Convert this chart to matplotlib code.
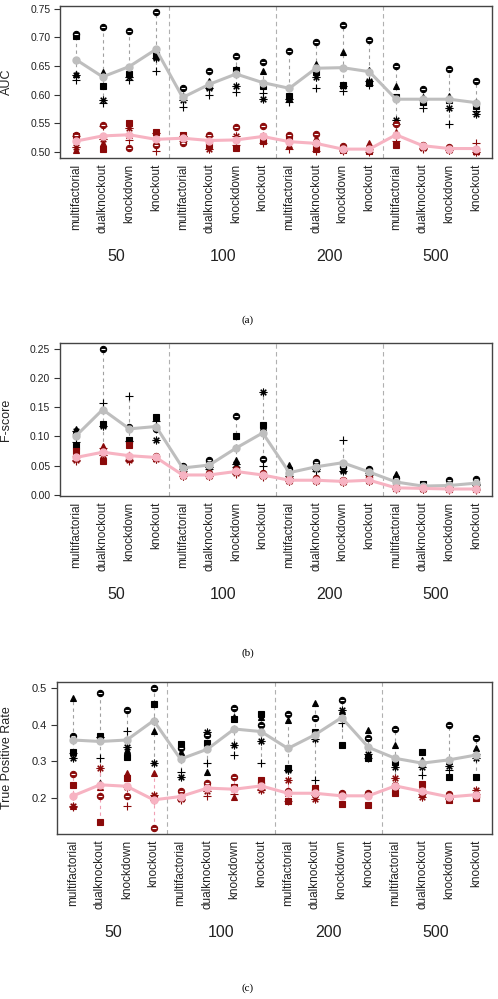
#!/usr/bin/env python

"""
AUC, F-score and true positive rate per network size and data type,
black = one group of methods, dark red = the other, lines = group means.
"""

import matplotlib
matplotlib.use('Agg')
import matplotlib.pyplot as plt
import numpy as np

SIZES = ['50', '100', '200', '500']
DATASETS = ['multifactorial', 'dualknockout', 'knockdown', 'knockout']

# one row per x position (size x dataset); columns = circle, triangle, square, asterisk, cross
AUC_BLACK = [
    [0.705, 0.636, 0.703, 0.634, 0.625], [0.718, 0.640, 0.615, 0.591, 0.585],
    [0.711, 0.638, 0.636, 0.630, 0.626], [0.744, 0.667, 0.669, 0.664, 0.641],
    [0.612, 0.597, 0.595, 0.590, 0.578], [0.642, 0.623, 0.615, 0.611, 0.600],
    [0.667, 0.645, 0.643, 0.615, 0.605], [0.656, 0.641, 0.615, 0.592, 0.603],
    [0.676, 0.594, 0.597, 0.592, 0.588], [0.692, 0.653, 0.640, 0.630, 0.611],
    [0.721, 0.675, 0.617, 0.615, 0.607], [0.695, 0.643, 0.620, 0.623, 0.617],
    [0.650, 0.615, 0.595, 0.556, 0.548], [0.609, 0.596, 0.587, 0.590, 0.577],
    [0.645, 0.598, 0.591, 0.577, 0.549], [0.624, 0.588, 0.580, 0.566, 0.572],
]
AUC_RED = [
    [0.530, 0.503, 0.528, 0.509, 0.527], [0.547, 0.515, 0.506, 0.523, 0.545],
    [0.507, 0.530, 0.550, 0.541, 0.521], [0.513, 0.529, 0.535, 0.533, 0.501],
    [0.516, 0.525, 0.530, 0.528, 0.520], [0.530, 0.522, 0.513, 0.505, 0.528],
    [0.544, 0.522, 0.507, 0.528, 0.512], [0.546, 0.525, 0.519, 0.528, 0.515],
    [0.530, 0.512, 0.525, 0.520, 0.505], [0.531, 0.524, 0.505, 0.514, 0.502],
    [0.510, 0.506, 0.504, 0.503, 0.501], [0.503, 0.516, 0.502, 0.505, 0.500],
    [0.548, 0.535, 0.512, 0.530, 0.520], [0.513, 0.511, 0.509, 0.507, 0.505],
    [0.508, 0.507, 0.506, 0.504, 0.503], [0.506, 0.504, 0.502, 0.500, 0.515],
]
AUC_BLACK_MEAN = [0.661, 0.631, 0.649, 0.679, 0.595, 0.618, 0.636, 0.621,
                  0.611, 0.646, 0.647, 0.640, 0.592, 0.592, 0.592, 0.586]
AUC_RED_MEAN = [0.519, 0.528, 0.530, 0.522, 0.524, 0.520, 0.521, 0.527,
                0.518, 0.515, 0.505, 0.505, 0.530, 0.511, 0.506, 0.506]

FSCORE_BLACK = [
    [0.105, 0.112, 0.083, 0.109, 0.091], [0.250, 0.080, 0.122, 0.118, 0.158],
    [0.117, 0.090, 0.094, 0.092, 0.170], [0.113, 0.118, 0.133, 0.094, 0.126],
    [0.050, 0.048, 0.046, 0.044, 0.041], [0.060, 0.050, 0.055, 0.047, 0.045],
    [0.135, 0.060, 0.101, 0.052, 0.048], [0.061, 0.116, 0.120, 0.176, 0.050],
    [0.044, 0.051, 0.038, 0.033, 0.028], [0.057, 0.052, 0.047, 0.044, 0.040],
    [0.047, 0.044, 0.052, 0.040, 0.094], [0.044, 0.042, 0.040, 0.037, 0.034],
    [0.028, 0.035, 0.020, 0.014, 0.012], [0.016, 0.014, 0.019, 0.013, 0.012],
    [0.025, 0.016, 0.013, 0.013, 0.012], [0.027, 0.022, 0.019, 0.018, 0.016],
]
FSCORE_RED = [
    [0.066, 0.064, 0.075, 0.060, 0.058], [0.075, 0.083, 0.058, 0.068, 0.080],
    [0.062, 0.068, 0.085, 0.060, 0.058], [0.067, 0.065, 0.063, 0.062, 0.061],
    [0.037, 0.035, 0.034, 0.033, 0.032], [0.037, 0.035, 0.034, 0.033, 0.032],
    [0.044, 0.042, 0.040, 0.038, 0.035], [0.038, 0.036, 0.034, 0.033, 0.031],
    [0.028, 0.026, 0.025, 0.024, 0.024], [0.028, 0.026, 0.025, 0.024, 0.024],
    [0.026, 0.024, 0.023, 0.022, 0.022], [0.030, 0.026, 0.025, 0.024, 0.023],
    [0.014, 0.012, 0.011, 0.011, 0.010], [0.012, 0.011, 0.011, 0.010, 0.010],
    [0.012, 0.010, 0.010, 0.010, 0.009], [0.012, 0.011, 0.010, 0.010, 0.009],
]
FSCORE_BLACK_MEAN = [0.101, 0.146, 0.113, 0.117, 0.046, 0.051, 0.080, 0.106,
                     0.038, 0.048, 0.055, 0.039, 0.022, 0.015, 0.016, 0.020]
FSCORE_RED_MEAN = [0.064, 0.073, 0.067, 0.064, 0.034, 0.034, 0.040, 0.034,
                   0.025, 0.025, 0.023, 0.025, 0.012, 0.011, 0.010, 0.010]

TPR_BLACK = [
    [0.369, 0.473, 0.326, 0.308, 0.322], [0.486, 0.240, 0.368, 0.365, 0.310],
    [0.441, 0.330, 0.313, 0.340, 0.383], [0.500, 0.383, 0.456, 0.295, 0.411],
    [0.335, 0.325, 0.347, 0.258, 0.270], [0.372, 0.270, 0.349, 0.381, 0.295],
    [0.446, 0.420, 0.414, 0.345, 0.317], [0.399, 0.422, 0.430, 0.354, 0.295],
    [0.430, 0.412, 0.281, 0.277, 0.275], [0.417, 0.459, 0.381, 0.361, 0.250],
    [0.467, 0.437, 0.345, 0.439, 0.405], [0.364, 0.385, 0.310, 0.320, 0.310],
    [0.387, 0.345, 0.298, 0.284, 0.228], [0.293, 0.304, 0.325, 0.285, 0.263],
    [0.399, 0.300, 0.257, 0.286, 0.277], [0.364, 0.335, 0.257, 0.308, 0.320],
]
TPR_RED = [
    [0.265, 0.177, 0.236, 0.178, 0.176], [0.206, 0.230, 0.134, 0.281, 0.236],
    [0.206, 0.268, 0.254, 0.231, 0.177], [0.119, 0.268, 0.200, 0.209, 0.195],
    [0.220, 0.210, 0.200, 0.198, 0.195], [0.242, 0.236, 0.226, 0.220, 0.206],
    [0.256, 0.204, 0.230, 0.224, 0.210], [0.240, 0.233, 0.248, 0.222, 0.225],
    [0.218, 0.214, 0.193, 0.250, 0.192], [0.222, 0.215, 0.227, 0.196, 0.208],
    [0.215, 0.212, 0.184, 0.210, 0.209], [0.215, 0.212, 0.182, 0.210, 0.210],
    [0.236, 0.233, 0.213, 0.254, 0.230], [0.222, 0.215, 0.239, 0.204, 0.210],
    [0.210, 0.205, 0.195, 0.200, 0.198], [0.203, 0.208, 0.200, 0.222, 0.212],
]
TPR_BLACK_MEAN = [0.358, 0.354, 0.358, 0.411, 0.306, 0.333, 0.388, 0.381,
                  0.335, 0.372, 0.419, 0.338, 0.308, 0.295, 0.304, 0.317]
TPR_RED_MEAN = [0.206, 0.236, 0.232, 0.195, 0.204, 0.227, 0.224, 0.233,
                0.213, 0.213, 0.206, 0.206, 0.233, 0.218, 0.203, 0.209]

MARKERS = ['o', '^', 's', (8, 2, 0), '+']
MSIZES = [4.5, 4.8, 4.2, 5.5, 6.0]
DARKRED = '#8b0a0a'
GREY = '#bebebe'
PINK = '#f7b3c2'
FONT = 'Liberation Sans'


def draw_panel(ax, black, red, black_mean, red_mean, ylim, yticks, fmt,
               ylabel, label_x, ytick_size, ylabel_size):
    x = np.arange(1, 17)
    blk = np.array(black)
    rd = np.array(red)

    for s in [4.5, 8.5, 12.5]:
        ax.axvline(s, color='#b0b0b0', ls=(0, (4, 3)), lw=0.8, zorder=1)

    # min-max whiskers
    ax.vlines(x, blk.min(1), blk.max(1), colors='#a0a0a0',
              linestyles=(0, (3, 3)), lw=0.8, zorder=2)
    ax.vlines(x, rd.min(1), rd.max(1), colors='#f0a0b4',
              linestyles=(0, (3, 3)), lw=0.8, zorder=2)

    for vals, col in [(blk, 'black'), (rd, DARKRED)]:
        for j, m in enumerate(MARKERS):
            ax.plot(x, vals[:, j], ls='none', marker=m, ms=MSIZES[j],
                    color=col, mew=0.8, zorder=3)
        # white bar through the circles
        ax.plot(x, vals[:, 0], ls='none', marker='_', ms=3.5, color='white',
                mew=0.8, zorder=3.5)

    ax.plot(x, black_mean, color=GREY, lw=2.2, marker='o', ms=5, zorder=4)
    ax.plot(x, red_mean, color=PINK, lw=2.2, marker='o', ms=5, zorder=4)

    ax.set_xlim(0.4, 16.6)
    ax.set_ylim(*ylim)
    ax.set_xticks(x)
    ax.set_xticklabels(DATASETS * 4, rotation=90, fontsize=8.5,
                       family=FONT, color='#222222')
    ax.tick_params(axis='x', length=0, pad=4)
    ax.set_yticks(yticks)
    ax.set_yticklabels([fmt % v for v in yticks], fontsize=ytick_size,
                       family=FONT, color='#222222')
    ax.tick_params(axis='y', length=4, width=0.8, color='#333333', pad=3)
    for sp in ax.spines.values():
        sp.set_color('#444444')
        sp.set_linewidth(1.0)
    ax.set_ylabel(ylabel, fontsize=ylabel_size, family=FONT, color='#222222')
    ax.yaxis.set_label_coords(label_x, 0.5)

    for i, size in enumerate(SIZES):
        ax.annotate(size, xy=(2.5 + 4 * i, 0), xycoords=('data', 'axes fraction'),
                    xytext=(0, -71), textcoords='offset points',
                    ha='center', va='center', fontsize=11.5, family=FONT,
                    color='#222222')


def main():
    fig = plt.figure(figsize=(4.98, 9.99), dpi=100)
    W, H = 498.0, 999.0

    ax_a = fig.add_axes([60 / W, 1 - 158 / H, 432 / W, 152 / H])
    draw_panel(ax_a, AUC_BLACK, AUC_RED, AUC_BLACK_MEAN, AUC_RED_MEAN,
               (0.4895, 0.7545), [0.50, 0.55, 0.60, 0.65, 0.70, 0.75], '%.2f',
               'AUC', -0.11, 7.5, 9)

    ax_b = fig.add_axes([60 / W, 1 - 496 / H, 432 / W, 153 / H])
    draw_panel(ax_b, FSCORE_BLACK, FSCORE_RED, FSCORE_BLACK_MEAN, FSCORE_RED_MEAN,
               (-0.002, 0.260), [0.00, 0.05, 0.10, 0.15, 0.20, 0.25], '%.2f',
               'F-score', -0.11, 7.5, 9)

    ax_c = fig.add_axes([57 / W, 1 - 834 / H, 435 / W, 152 / H])
    draw_panel(ax_c, TPR_BLACK, TPR_RED, TPR_BLACK_MEAN, TPR_RED_MEAN,
               (0.102, 0.516), [0.2, 0.3, 0.4, 0.5], '%.1f',
               'True Positive Rate', -0.101, 8, 9)

    for lab, y in [('(a)', 320), ('(b)', 653), ('(c)', 988)]:
        fig.text(248 / W, 1 - y / H, lab, ha='center', va='center',
                 fontsize=8, family='Liberation Serif')

    fig.savefig('out.png', dpi=100, facecolor='white')


if __name__ == "__main__":
    main()
